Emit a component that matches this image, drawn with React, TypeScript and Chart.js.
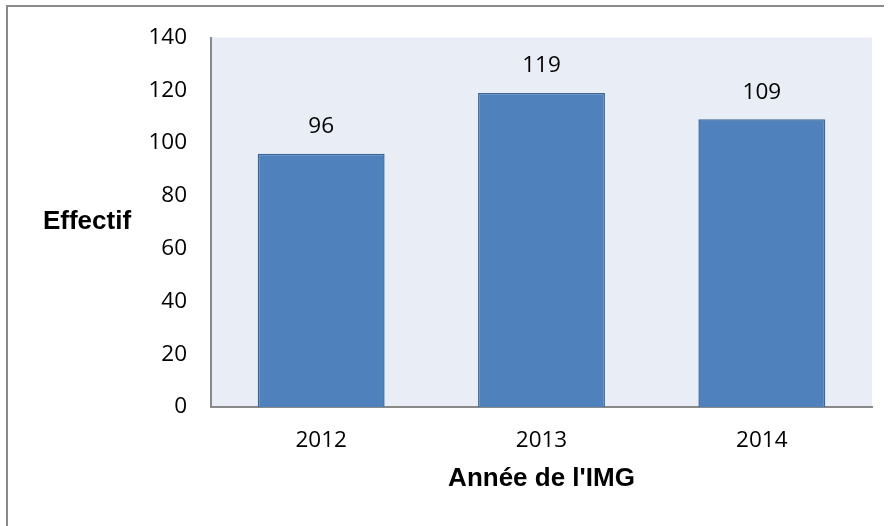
import React, { useEffect, useRef } from "react";
import { Chart, registerables } from "chart.js";

Chart.register(...registerables);

const categories = ["2012", "2013", "2014"];
const values = [96, 119, 109];
const yTicks = [0, 20, 40, 60, 80, 100, 120, 140];
const yTitle = "Effectif";
const xTitle = "Année de l'IMG";

const TICK_FONT = "'Open Sans', sans-serif";
const TITLE_FONT = "'Liberation Sans', Arial, sans-serif";

const bgPlugin = {
  id: "plotBg",
  beforeDraw(chart: any) {
    const { ctx, chartArea } = chart;
    ctx.save();
    ctx.fillStyle = "#E9EDF5";
    ctx.fillRect(chartArea.left, chartArea.top, chartArea.right - chartArea.left, chartArea.bottom - chartArea.top);
    ctx.restore();
  },
};

const labelsPlugin = {
  id: "labelsAndTitles",
  afterDatasetsDraw(chart: any) {
    const { ctx, chartArea } = chart;
    ctx.save();
    ctx.fillStyle = "#000";
    ctx.font = `22.5px ${TICK_FONT}`;
    ctx.textAlign = "center";
    ctx.textBaseline = "middle";
    const meta = chart.getDatasetMeta(0);
    meta.data.forEach((bar: any, i: number) => {
      ctx.fillText(String(values[i]), bar.x, bar.y - 27);
    });
    ctx.font = `bold 26px ${TITLE_FONT}`;
    ctx.fillText(yTitle, 87, (chartArea.top + chartArea.bottom) / 2);
    ctx.fillText(xTitle, (chartArea.left + chartArea.right) / 2, 479);
    ctx.restore();
  },
};

export default function App() {
  const ref = useRef<HTMLCanvasElement>(null);
  useEffect(() => {
    document.body.style.margin = "0";
    const chart = new Chart(ref.current!, {
      type: "bar",
      data: {
        labels: categories,
        datasets: [
          {
            data: values,
            backgroundColor: "#4F81BD",
            borderColor: "#3B6899",
            borderWidth: 1.5,
            categoryPercentage: 1,
            barPercentage: 0.576,
          },
        ],
      },
      options: {
        responsive: false,
        animation: false,
        layout: { padding: { top: 35, right: 18, left: 0, bottom: 0 } },
        plugins: { legend: { display: false }, tooltip: { enabled: false } },
        scales: {
          x: {
            grid: { display: false, drawTicks: false },
            border: { display: true, color: "#898989", width: 2 },
            ticks: { color: "#000", font: { family: TICK_FONT, size: 22.5 }, padding: 20 },
            afterFit(scale: any) {
              scale.height = 119;
            },
          },
          y: {
            min: 0,
            max: 140,
            afterBuildTicks(scale: any) {
              scale.ticks = yTicks.map((v) => ({ value: v }));
            },
            grid: { display: false, drawTicks: false },
            border: { display: true, color: "#898989", width: 2 },
            ticks: { color: "#000", font: { family: TICK_FONT, size: 22.5 }, padding: 24 },
            afterFit(scale: any) {
              scale.width = 211;
            },
          },
        },
      },
      plugins: [bgPlugin, labelsPlugin],
    });
    return () => chart.destroy();
  }, []);

  return (
    <div style={{ position: "relative", width: 890, height: 526, background: "#fff" }}>
      <canvas ref={ref} width={890} height={526} style={{ position: "absolute", left: 0, top: 0 }} />
      <div style={{ position: "absolute", left: 6, top: 5, width: 878, height: 2, background: "#898989" }} />
      <div style={{ position: "absolute", left: 6, top: 5, width: 2, height: 521, background: "#898989" }} />
    </div>
  );
}
